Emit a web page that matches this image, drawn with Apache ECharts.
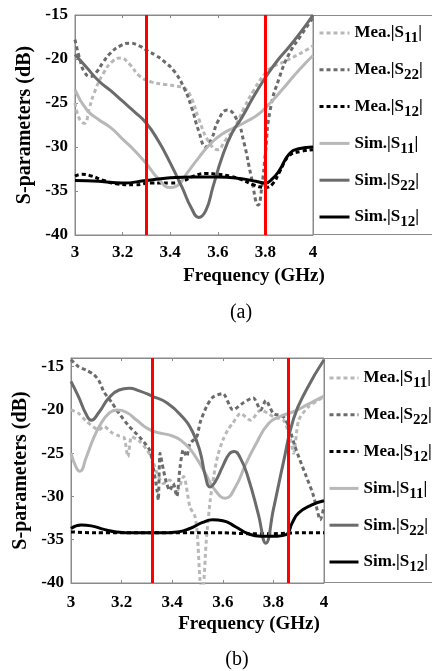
<!DOCTYPE html>
<html>
<head>
<meta charset="utf-8">
<title>S-parameters</title>
<script src="https://cdn.jsdelivr.net/npm/echarts@6/dist/echarts.min.js"></script>
<style>
  html, body { margin: 0; padding: 0; background: #fff; }
  #chart { width: 432px; height: 671px; }
</style>
</head>
<body>
<div id="chart"></div>
<script>
// legend names (series names) and their rich-text labels
var seriesNames = ['Mea.|S11|', 'Mea.|S22|', 'Mea.|S12|', 'Sim.|S11|', 'Sim.|S22|', 'Sim.|S12|'];
var legendLabels = ['Mea.|S{sub|11}|', 'Mea.|S{sub|22}|', 'Mea.|S{sub|12}|', 'Sim.|S{sub|11}|', 'Sim.|S{sub|22}|', 'Sim.|S{sub|12}|'];

// red band markers (GHz)
var bandA = [3.3, 3.8];
var bandB = [3.32, 3.86];

// ---- (a) ----  [GHz, dB]
var meaS11A = [[3.00,-25.0],[3.02,-26.9],[3.04,-27.3],[3.06,-25.6],[3.08,-23.9],[3.12,-21.6],[3.16,-20.2],[3.19,-19.9],
  [3.23,-20.6],[3.27,-21.9],[3.32,-22.6],[3.38,-22.9],[3.43,-23.1],[3.46,-23.3],[3.49,-24.5],[3.52,-26.8],[3.56,-29.3],
  [3.60,-30.3],[3.63,-29.3],[3.67,-27.8],[3.71,-25.6],[3.75,-23.6],[3.80,-21.6],[3.83,-20.9],[3.88,-20.3],[3.93,-19.6],
  [3.97,-19.0],[4.00,-18.5]];
var meaS22A = [[3.00,-17.8],[3.02,-20.0],[3.04,-21.5],[3.065,-22.0],[3.09,-21.5],[3.12,-20.3],[3.15,-19.3],[3.19,-18.5],
  [3.23,-18.2],[3.27,-18.5],[3.30,-19.0],[3.34,-19.6],[3.38,-20.4],[3.42,-21.5],[3.46,-23.4],[3.49,-25.5],[3.52,-28.2],
  [3.55,-30.0],[3.575,-29.0],[3.60,-27.1],[3.64,-25.8],[3.68,-26.9],[3.71,-29.5],[3.74,-33.3],[3.77,-36.6],[3.785,-34.5],
  [3.80,-30.7],[3.82,-25.8],[3.86,-22.0],[3.90,-19.4],[3.95,-17.3],[4.00,-15.3]];
var meaS12A = [[3.00,-33.3],[3.03,-33.1],[3.07,-33.3],[3.12,-33.8],[3.18,-34.2],[3.25,-34.3],[3.32,-34.1],[3.40,-34.1],
  [3.45,-33.9],[3.50,-33.3],[3.55,-33.0],[3.60,-33.1],[3.65,-33.3],[3.70,-33.7],[3.75,-34.3],[3.80,-34.6],[3.83,-34.2],
  [3.86,-32.8],[3.90,-31.0],[3.95,-30.5],[4.00,-30.3]];
var simS11A = [[3.00,-23.5],[3.05,-25.8],[3.10,-26.9],[3.15,-27.8],[3.20,-29.1],[3.25,-30.4],[3.30,-31.9],[3.35,-33.6],
  [3.40,-34.6],[3.43,-34.4],[3.47,-33.0],[3.52,-31.2],[3.57,-29.6],[3.62,-28.5],[3.67,-27.8],[3.72,-27.1],[3.77,-26.3],
  [3.82,-25.0],[3.87,-23.5],[3.92,-21.9],[3.96,-20.7],[4.00,-19.6]];
var simS22A = [[3.00,-19.5],[3.05,-21.0],[3.10,-22.5],[3.15,-23.6],[3.20,-24.8],[3.25,-26.0],[3.30,-27.3],[3.35,-29.3],
  [3.40,-31.8],[3.45,-34.6],[3.49,-37.0],[3.52,-38.0],[3.55,-37.2],[3.58,-34.5],[3.62,-31.0],[3.66,-28.4],[3.70,-26.7],
  [3.75,-24.3],[3.80,-22.1],[3.85,-20.2],[3.90,-18.6],[3.95,-16.9],[4.00,-15.0]];
var simS12A = [[3.00,-33.8],[3.10,-33.9],[3.20,-34.1],[3.30,-33.8],[3.40,-33.5],[3.50,-33.4],[3.60,-33.4],[3.70,-33.6],
  [3.76,-33.9],[3.80,-34.1],[3.83,-33.6],[3.86,-32.6],[3.90,-30.8],[3.94,-30.2],[4.00,-30.0]];

// ---- (b) ----
var meaS11B = [[3.00,-20.0],[3.03,-20.4],[3.06,-21.3],[3.09,-22.0],[3.11,-22.3],[3.13,-21.9],[3.16,-22.6],[3.19,-23.0],
  [3.21,-23.2],[3.225,-25.4],[3.24,-23.1],[3.27,-23.6],[3.30,-24.6],[3.32,-25.6],[3.34,-27.3],[3.365,-28.5],[3.39,-28.1],
  [3.42,-29.3],[3.445,-27.7],[3.47,-31.2],[3.49,-32.3],[3.50,-34.6],[3.51,-39.7],[3.52,-41.0],[3.535,-35.0],[3.55,-30.5],
  [3.565,-27.5],[3.58,-25.3],[3.60,-23.5],[3.62,-22.3],[3.64,-21.5],[3.67,-20.4],[3.71,-21.2],[3.75,-20.0],[3.80,-20.8],
  [3.84,-21.2],[3.865,-23.1],[3.88,-25.0],[3.90,-21.2],[3.94,-19.6],[4.00,-18.5]];
var meaS22B = [[3.00,-14.2],[3.03,-15.0],[3.06,-15.4],[3.09,-15.9],[3.11,-16.6],[3.13,-17.9],[3.16,-19.1],[3.19,-20.4],
  [3.23,-21.9],[3.27,-23.1],[3.31,-24.6],[3.325,-26.6],[3.34,-29.3],[3.345,-30.4],[3.352,-25.0],[3.365,-26.9],[3.378,-28.5],
  [3.391,-29.3],[3.404,-28.5],[3.418,-30.0],[3.431,-26.6],[3.444,-24.6],[3.457,-25.4],[3.47,-23.9],[3.497,-23.1],
  [3.51,-21.5],[3.536,-19.6],[3.562,-18.5],[3.60,-18.1],[3.64,-20.0],[3.68,-19.2],[3.72,-18.6],[3.75,-20.0],[3.77,-18.9],
  [3.80,-20.4],[3.84,-20.8],[3.865,-22.3],[3.885,-24.2],[3.905,-25.8],[3.93,-27.7],[3.955,-29.6],[3.97,-31.2],
  [3.985,-32.7],[4.00,-31.2]];
var meaS12B = [[3.00,-34.1],[3.10,-34.2],[3.20,-34.2],[3.30,-34.2],[3.40,-34.2],[3.50,-34.2],[3.60,-34.2],[3.70,-34.3],
  [3.80,-34.3],[3.90,-34.2],[4.00,-34.2]];
var simS11B = [[3.00,-25.0],[3.02,-26.6],[3.035,-27.1],[3.06,-25.5],[3.09,-23.2],[3.12,-21.5],[3.15,-20.4],[3.18,-20.0],
  [3.22,-20.3],[3.26,-21.2],[3.30,-22.1],[3.34,-22.6],[3.40,-23.0],[3.45,-23.9],[3.49,-25.3],[3.53,-27.3],[3.57,-29.3],
  [3.61,-30.2],[3.65,-28.9],[3.69,-26.3],[3.73,-24.0],[3.78,-21.6],[3.83,-20.7],[3.88,-20.2],[3.94,-19.3],[4.00,-18.4]];
var simS22B = [[3.00,-16.7],[3.03,-18.5],[3.06,-20.5],[3.08,-21.2],[3.11,-20.3],[3.15,-18.6],[3.19,-17.7],[3.23,-17.5],
  [3.27,-17.8],[3.32,-18.4],[3.38,-19.2],[3.44,-20.8],[3.48,-22.5],[3.51,-24.8],[3.53,-27.5],[3.55,-28.9],[3.57,-28.3],
  [3.60,-26.5],[3.625,-25.1],[3.645,-24.8],[3.67,-25.6],[3.70,-27.8],[3.74,-32.0],[3.77,-35.4],[3.80,-31.5],[3.84,-26.0],
  [3.88,-21.0],[3.93,-17.7],[4.00,-14.2]];
var simS12B = [[3.00,-33.7],[3.04,-33.3],[3.08,-33.4],[3.13,-33.8],[3.18,-34.1],[3.25,-34.2],[3.35,-34.2],[3.42,-34.1],
  [3.47,-33.7],[3.52,-33.0],[3.56,-32.7],[3.60,-32.8],[3.65,-33.5],[3.70,-34.3],[3.75,-34.6],[3.80,-34.6],[3.85,-34.4],
  [3.875,-33.0],[3.90,-31.9],[3.95,-31.0],[4.00,-30.5]];

var colors = ['#b8b8b8', '#6b6b6b', '#000000', '#b8b8b8', '#6b6b6b', '#000000'];
var FONT = '"Liberation Serif", "Times New Roman", serif';
var AXIS_GRAY = '#8a8a8a';

var chart = echarts.init(document.getElementById('chart'));

function makeSeries(gridIdx, i, data, smooth) {
  var dashed = i < 3;
  return {
    name: seriesNames[i],
    type: 'line',
    xAxisIndex: gridIdx,
    yAxisIndex: gridIdx,
    data: data,
    symbol: 'none',
    smooth: smooth,
    itemStyle: { color: colors[i] },
    lineStyle: { color: colors[i], width: 3, type: dashed ? [4, 3] : 'solid' },
    z: 2 + i * 0.1
  };
}

function redLines(vals) {
  return {
    silent: true,
    symbol: 'none',
    label: { show: false },
    lineStyle: { color: '#ff0000', width: 3, type: 'solid' },
    emphasis: { disabled: true },
    data: vals.map(function (v) { return { xAxis: v }; })
  };
}

function xAxisBottom(gridIdx, margin, shift) {
  return {
    gridIndex: gridIdx, type: 'value', min: 3, max: 4, interval: 0.2, position: 'bottom',
    axisLine: { lineStyle: { color: AXIS_GRAY } },
    axisTick: { inside: true, length: 3, lineStyle: { color: AXIS_GRAY } },
    splitLine: { show: false },
    axisLabel: { margin: margin, color: '#000', fontFamily: FONT, fontWeight: 'bold', fontSize: 17 },
    name: 'Frequency (GHz)', nameLocation: 'middle', nameGap: 32,
    nameTextStyle: { color: '#000', fontFamily: FONT, fontWeight: 'bold', fontSize: 19, padding: [0, 0, 0, shift] }
  };
}
function xAxisTop(gridIdx) {
  return {
    gridIndex: gridIdx, type: 'value', min: 3, max: 4, interval: 0.2, position: 'top',
    axisLine: { lineStyle: { color: AXIS_GRAY } },
    axisTick: { inside: true, length: 3, lineStyle: { color: AXIS_GRAY } },
    splitLine: { show: false }, axisLabel: { show: false }
  };
}
function yAxisLeft(gridIdx, max, gap) {
  return {
    gridIndex: gridIdx, type: 'value', min: -40, max: max, interval: 5,
    axisLine: { show: true, lineStyle: { color: AXIS_GRAY } },
    axisTick: { show: true, inside: true, length: 3, lineStyle: { color: AXIS_GRAY } },
    splitLine: { show: false },
    axisLabel: { margin: 7, color: '#000', fontFamily: FONT, fontWeight: 'bold', fontSize: 17, showMaxLabel: max === -15 },
    name: 'S-parameters (dB)', nameLocation: 'middle', nameGap: gap,
    nameTextStyle: { color: '#000', fontFamily: FONT, fontWeight: 'bold', fontSize: 20 }
  };
}
function legendFor(left, top, iw) {
  return {
    orient: 'vertical', left: left, top: top, padding: 0,
    itemWidth: iw, itemHeight: 14, itemGap: 10.8,
    selectedMode: false,
    data: seriesNames,
    lineStyle: { width: 3 },
    itemStyle: { color: 'rgba(0,0,0,0)', borderWidth: 0, opacity: 0 },
    formatter: function (name) { return legendLabels[seriesNames.indexOf(name)]; },
    textStyle: {
      color: '#000', fontFamily: FONT, fontWeight: 'bold', fontSize: 17, lineHeight: 26,
      rich: { sub: { fontFamily: FONT, fontWeight: 'bold', fontSize: 15, lineHeight: 8, verticalAlign: 'bottom', color: '#000' } }
    }
  };
}

var dataA = [meaS11A, meaS22A, meaS12A, simS11A, simS22A, simS12A];
var dataB = [meaS11B, meaS22B, meaS12B, simS11B, simS22B, simS12B];

var series = [];
dataA.forEach(function (d, i) { series.push(makeSeries(0, i, d, true)); });
dataB.forEach(function (d, i) { series.push(makeSeries(1, i, d, i < 3 ? 0.25 : true)); });
series[5].markLine = redLines(bandA);
series[11].markLine = redLines(bandB);

chart.setOption({
  animation: false,
  backgroundColor: '#fff',
  grid: [
    { left: 75, top: 15, width: 238, height: 220, show: true, borderColor: AXIS_GRAY, borderWidth: 1 },
    { left: 71, top: 358, width: 253, height: 225, show: true, borderColor: AXIS_GRAY, borderWidth: 1 }
  ],
  xAxis: [xAxisBottom(0, 9, 120), xAxisBottom(1, 11, 103), xAxisTop(0), xAxisTop(1)],
  yAxis: [yAxisLeft(0, -15, 38), yAxisLeft(1, -14, 37)],
  legend: [legendFor(318, 20, 30), legendFor(328, 365, 29)],
  graphic: [
    { type: 'rect', shape: { x: 313.5, y: 15.5, width: 200, height: 219 }, style: { fill: 'none', stroke: AXIS_GRAY, lineWidth: 1 }, silent: true },
    { type: 'rect', shape: { x: 324.5, y: 358.5, width: 200, height: 224 }, style: { fill: 'none', stroke: AXIS_GRAY, lineWidth: 1 }, silent: true },
    { type: 'text', x: 241, y: 313, style: { text: '(a)', fontFamily: FONT, fontSize: 20, fill: '#000', align: 'center', verticalAlign: 'middle' } },
    { type: 'text', x: 237, y: 660, style: { text: '(b)', fontFamily: FONT, fontSize: 20, fill: '#000', align: 'center', verticalAlign: 'middle' } }
  ],
  series: series
});
</script>
</body>
</html>
